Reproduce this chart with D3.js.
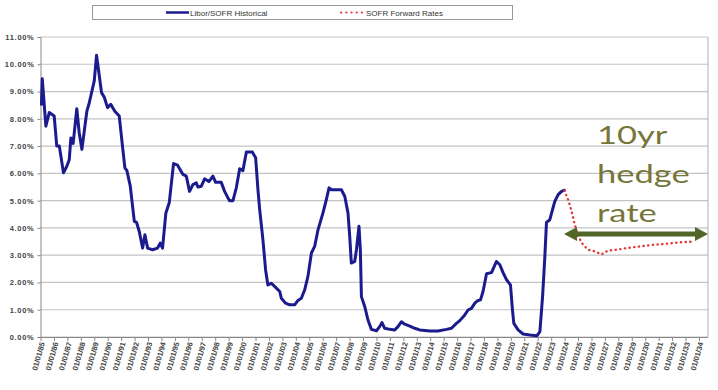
<!DOCTYPE html>
<html lang="en">
<head>
    <meta charset="UTF-8">
    <title>Libor/SOFR Historical and Forward Rates</title>
    <style>
        body { margin: 0; background: #fff; }
        svg { display: block; }
        .axis text { font-family: Arial, 'Liberation Sans', sans-serif; font-weight: bold; fill: #444; }
        .axis path, .axis line { stroke: #888; }
        .legend text { font-family: Arial, 'Liberation Sans', sans-serif; font-size: 8px; fill: #333; }
    </style>
</head>
<body>
<svg id="chart" width="718" height="390"></svg>

<script src="https://cdnjs.cloudflare.com/ajax/libs/d3/7.8.5/d3.min.js"></script>
<script>
    // Historical Libor/SOFR (decimal year, % rate)
    const histDates = [1985.07, 1985.13, 1985.4, 1985.65, 1986.02, 1986.21, 1986.4, 1986.71, 1986.96, 1987.14,
        1987.26, 1987.43, 1987.7, 1987.88, 1988.08, 1988.45, 1988.63, 1989.0, 1989.17, 1989.37,
        1989.54, 1989.74, 1989.99, 1990.23, 1990.53, 1990.86, 1991.1, 1991.28, 1991.43, 1991.68,
        1991.98, 1992.15, 1992.35, 1992.6, 1992.77, 1992.97, 1993.34, 1993.71, 1993.91, 1994.08,
        1994.33, 1994.58, 1994.9, 1995.2, 1995.6, 1995.85, 1996.09, 1996.34, 1996.59, 1996.71,
        1996.97, 1997.21, 1997.53, 1997.83, 1998.03, 1998.45, 1998.7, 1998.95, 1999.07, 1999.32,
        1999.57, 1999.82, 2000.06, 2000.32, 2000.76, 2001.01, 2001.18, 2001.31, 2001.55, 2001.75,
        2001.92, 2002.18, 2002.55, 2002.8, 2002.92, 2003.24, 2003.54, 2003.91, 2004.16, 2004.41,
        2004.66, 2004.9, 2005.16, 2005.4, 2005.65, 2006.02, 2006.27, 2006.47, 2006.65, 2007.39,
        2007.64, 2007.88, 2008.01, 2008.13, 2008.38, 2008.51, 2008.7, 2008.8, 2008.88, 2009.13,
        2009.37, 2009.62, 2010.0, 2010.24, 2010.41, 2010.61, 2010.99, 2011.36, 2011.6, 2011.86,
        2012.1, 2012.48, 2012.85, 2013.22, 2013.97, 2014.58, 2015.21, 2015.58, 2015.95, 2016.2,
        2016.57, 2016.82, 2017.07, 2017.32, 2017.56, 2017.74, 2017.93, 2018.19, 2018.56, 2018.93,
        2019.18, 2019.42, 2019.68, 2019.97, 2020.12, 2020.22, 2020.54, 2020.91, 2021.41, 2021.95,
        2022.16, 2022.36, 2022.53, 2022.65, 2022.9, 2023.1, 2023.27, 2023.52, 2023.77, 2023.98];
    const histRates = [8.53, 9.47, 7.73, 8.23, 8.1, 7.0, 7.0, 6.02, 6.26, 6.5,
        7.3, 7.1, 8.37, 7.49, 6.88, 8.28, 8.59, 9.39, 10.33, 9.6,
        8.96, 8.8, 8.41, 8.53, 8.28, 8.1, 7.0, 6.2, 6.1, 5.53,
        4.24, 4.2, 3.87, 3.26, 3.75, 3.26, 3.2, 3.26, 3.44, 3.26,
        4.55, 4.92, 6.36, 6.3, 5.96, 5.9, 5.34, 5.59, 5.65, 5.5,
        5.53, 5.8, 5.7, 5.9, 5.67, 5.67, 5.34, 5.1, 5.0, 5.0,
        5.47, 6.17, 6.1, 6.78, 6.78, 6.57, 5.4, 4.67, 3.57, 2.46,
        1.91, 1.97, 1.79, 1.67, 1.42, 1.24, 1.18, 1.18, 1.34, 1.42,
        1.73, 2.22, 3.08, 3.32, 3.93, 4.55, 5.04, 5.47, 5.4, 5.4,
        5.16, 4.55, 3.69, 2.71, 2.77, 3.2, 4.06, 3.2, 1.48, 1.11,
        0.62, 0.28, 0.23, 0.38, 0.53, 0.32, 0.28, 0.26, 0.38, 0.56,
        0.47, 0.4, 0.32, 0.26, 0.22, 0.22, 0.28, 0.32, 0.5, 0.6,
        0.81, 0.99, 1.05, 1.24, 1.34, 1.36, 1.67, 2.32, 2.36, 2.77,
        2.65, 2.36, 2.1, 1.91, 0.99, 0.5, 0.26, 0.11, 0.07, 0.05,
        0.2, 1.48, 2.95, 4.2, 4.3, 4.67, 4.97, 5.22, 5.34, 5.38];

    // SOFR forward curve
    const fwdDates = [2023.98, 2024.26, 2024.52, 2024.76, 2025.01, 2025.38, 2025.75, 2026.25, 2026.75,
        2027.24, 2027.87, 2028.61, 2029.6, 2030.59, 2031.59, 2032.58, 2033.57];
    const fwdRates = [5.37, 5.04, 4.61, 4.12, 3.69, 3.38, 3.2, 3.14, 3.03,
        3.17, 3.2, 3.26, 3.32, 3.38, 3.42, 3.47, 3.5];

    const tickYears = d3.range(1985, 2035);
    const rateTicks = d3.range(0, 12);
    const seriesNames = ['Libor/SOFR Historical', 'SOFR Forward Rates'];
    const noteLines = ['10yr', 'hedge', 'rate'];

    const svg = d3.select('#chart');
    const plot = { left: 40.5, right: 708, top: 37, bottom: 337 };

    const x = d3.scaleLinear().domain([1985, 2034.67]).range([plot.left, plot.right]);
    const y = d3.scaleLinear().domain([0, 11]).range([plot.bottom, plot.top]);

    // gridlines
    svg.append('g')
        .selectAll('line')
        .data(rateTicks)
        .join('line')
        .attr('x1', plot.left).attr('x2', plot.right)
        .attr('y1', d => y(d)).attr('y2', d => y(d))
        .attr('stroke', '#c4c4c4')
        .attr('stroke-width', 1.2);

    // right border
    svg.append('line')
        .attr('x1', plot.right).attr('x2', plot.right)
        .attr('y1', plot.top).attr('y2', plot.bottom)
        .attr('stroke', '#b0b0b0');

    // y axis
    const yAxis = svg.append('g')
        .attr('class', 'axis')
        .attr('transform', `translate(${plot.left},0)`)
        .call(d3.axisLeft(y).tickValues(rateTicks).tickSize(3).tickPadding(3)
            .tickFormat(d => d.toFixed(2) + '%'));
    yAxis.selectAll('text').style('font-size', '7.5px').style('letter-spacing', '0.7px');

    // x axis
    const xAxis = svg.append('g')
        .attr('class', 'axis')
        .attr('transform', `translate(0,${plot.bottom})`)
        .call(d3.axisBottom(x).tickValues(tickYears).tickSize(4)
            .tickFormat(d => '01/01/' + String(d % 100).padStart(2, '0')));
    xAxis.select('.domain').attr('d', `M${plot.left},0.5H${plot.right}`);
    xAxis.selectAll('text')
        .style('font-size', '7.5px')
        .attr('text-anchor', 'end')
        .attr('dy', null)
        .attr('y', 0)
        .attr('transform', 'translate(4,6) rotate(-74)');

    // series lines
    const line = d3.line().x(d => x(d[0])).y(d => y(d[1])).curve(d3.curveLinear);

    svg.append('path')
        .datum(d3.zip(histDates, histRates))
        .attr('d', line)
        .attr('fill', 'none')
        .attr('stroke', '#1b1b8e')
        .attr('stroke-width', 3)
        .attr('stroke-linejoin', 'round')
        .attr('stroke-linecap', 'round');

    svg.append('path')
        .datum(d3.zip(fwdDates, fwdRates))
        .attr('d', line)
        .attr('fill', 'none')
        .attr('stroke', '#e23a3a')
        .attr('stroke-width', 2.4)
        .attr('stroke-linecap', 'round')
        .attr('stroke-dasharray', '0.3,4.4');

    // legend
    const legend = svg.append('g').attr('class', 'legend');
    legend.append('rect')
        .attr('x', 92.5).attr('y', 5.5).attr('width', 420).attr('height', 14)
        .attr('fill', '#fff').attr('stroke', '#999');
    legend.append('line')
        .attr('x1', 166).attr('x2', 189).attr('y1', 12.5).attr('y2', 12.5)
        .attr('stroke', '#1b1b8e').attr('stroke-width', 2.5);
    legend.append('text').attr('x', 190).attr('y', 15.5).text(seriesNames[0]);
    legend.append('line')
        .attr('x1', 341).attr('x2', 362).attr('y1', 12.5).attr('y2', 12.5)
        .attr('stroke', '#e23a3a').attr('stroke-width', 2).attr('stroke-linecap', 'round')
        .attr('stroke-dasharray', '0.3,4.9');
    legend.append('text').attr('x', 366).attr('y', 15.5).text(seriesNames[1]);

    // annotation
    const note = svg.append('g');
    note.selectAll('text')
        .data(noteLines)
        .join('text')
        .attr('transform', (d, i) => `translate(597,${144 + i * 39}) scale(1.38,1)`)
        .attr('font-family', 'Lato, "Open Sans", sans-serif')
        .attr('font-size', 25)
        .attr('fill', '#76763a')
        .text(d => d);

    // double-headed arrow
    const ay = 234, ax1 = 564, ax2 = 708;
    note.append('line')
        .attr('x1', ax1 + 10).attr('x2', ax2 - 10)
        .attr('y1', ay).attr('y2', ay)
        .attr('stroke', '#52662a').attr('stroke-width', 5);
    note.append('path')
        .attr('d', `M${ax1},${ay} L${ax1 + 13},${ay - 7} L${ax1 + 13},${ay + 7} Z M${ax2},${ay} L${ax2 - 13},${ay - 7} L${ax2 - 13},${ay + 7} Z`)
        .attr('fill', '#52662a');
</script>
</body>
</html>
